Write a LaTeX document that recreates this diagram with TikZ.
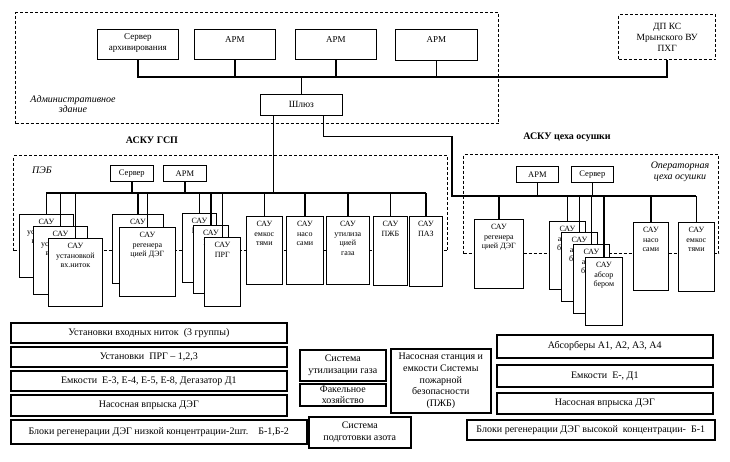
\documentclass[tikz,border=0pt]{standalone}
\usepackage{fontspec}
\setmainfont{Liberation Serif}
\usetikzlibrary{positioning}

\begin{document}
\begin{tikzpicture}[
    x=1pt, y=-1pt,
    zone/.style={draw, line width=1.3pt, dash pattern=on 3pt off 2pt, anchor=north west, inner sep=0pt, align=center, font=\fontsize{9.5}{11}\selectfont},
    unit/.style={draw, fill=white, line width=0.7pt, anchor=north west, inner sep=0pt, align=center, font=\fontsize{9.5}{11}\selectfont},
    plant/.style={draw, fill=white, line width=1.6pt, anchor=north west, inner sep=0pt, align=center, font=\fontsize{10}{11.7}\selectfont},
    sautext/.style={anchor=north, align=center, inner sep=0pt, yshift=-5.5pt, font=\fontsize{8}{9.5}\selectfont},
    armtext/.style={anchor=north, align=center, inner sep=0pt, yshift=-7pt, font=\fontsize{9}{11}\selectfont},
    bus/.style={line width=1.6pt},
    heading/.style={font=\bfseries\fontsize{10}{12}\selectfont},
    room/.style={align=center, font=\itshape\fontsize{10}{10.5}\selectfont}
]
\useasboundingbox (0,0) rectangle (730,462);

% Administrative building
\node[zone, minimum width=483pt, minimum height=111pt] (admin) at (15,12) {};
\node[room] (adminlbl) at (73,104) {Административное\\здание};
\node[unit, minimum width=81pt, minimum height=30pt, label={[armtext, yshift=2.5pt]north:Сервер\\архивирования}] (srv) at (97,29) {};
\node[unit, minimum width=81pt, minimum height=30pt, label={[armtext]north:АРМ}] (arm1) at (194,29) {};
\node[unit, minimum width=81pt, minimum height=30pt, label={[armtext]north:АРМ}] (arm2) at (295,29) {};
\node[unit, minimum width=82pt, minimum height=31pt, label={[armtext]north:АРМ}] (arm3) at (395,29) {};
\node[unit, minimum width=82pt, minimum height=21pt] (gw) at (260,94) {Шлюз};

% Dispatcher
\node[zone, minimum width=97pt, minimum height=45pt] (dp) at (618,14) {ДП КС\\Мрынского ВУ\\ПХГ};

% Admin network
\coordinate (adminbus) at (0,77);
\draw[bus] (srv.south) -- (srv.south |- adminbus) -- (dp.south |- adminbus) -- (dp.south);
\draw[bus] (arm1.south) -- (arm1.south |- adminbus);
\draw[bus] (arm2.south) -- (arm2.south |- adminbus);
\draw[bus] (arm3.south) -- (arm3.south |- adminbus);
\draw[bus] (gw.north) -- (gw.north |- adminbus);

% Titles
\node[heading] (gsp) at (152,140) {АСКУ ГСП};
\node[heading] (dry) at (567,137) {АСКУ цеха осушки};

% PEB
\node[zone, minimum width=434pt, minimum height=95pt] (peb) at (13,155) {};
\node[room] (peblbl) at (42,170) {ПЭБ};
\node[unit, minimum width=43pt, minimum height=16pt, font=\fontsize{8.5}{9}\selectfont] (pebsrv) at (110,165) {Сервер};
\node[unit, minimum width=43pt, minimum height=16pt, font=\fontsize{8.5}{9}\selectfont] (pebarm) at (163,165) {АРМ};

% PEB controllers
\node[unit, minimum width=54pt, minimum height=63pt, label={[sautext]north:САУ\\установкой\\вх.ниток}] (g1a) at (19,214) {};
\node[unit, minimum width=54pt, minimum height=68pt, label={[sautext]north:САУ\\установкой\\вх.ниток}] (g1b) at (33,226) {};
\node[unit, minimum width=54pt, minimum height=68pt, label={[sautext]north:САУ\\установкой\\вх.ниток}] (g1c) at (48,238) {};
\node[unit, minimum width=51pt, minimum height=69pt, label={[sautext]north:САУ\\регенера\\цией ДЭГ}] (g2a) at (112,214) {};
\node[unit, minimum width=56pt, minimum height=69pt, label={[sautext]north:САУ\\регенера\\цией ДЭГ}] (g2b) at (119,227) {};
\node[unit, minimum width=34pt, minimum height=69pt, label={[sautext]north:САУ\\ПРГ}] (g3a) at (182,213) {};
\node[unit, minimum width=35pt, minimum height=68pt, label={[sautext]north:САУ\\ПРГ}] (g3b) at (193,225) {};
\node[unit, minimum width=36pt, minimum height=69pt, label={[sautext]north:САУ\\ПРГ}] (g3c) at (204,237) {};
\node[unit, minimum width=36pt, minimum height=68pt, label={[sautext]north:САУ\\емкос\\тями}] (s4) at (246,216) {};
\node[unit, minimum width=37pt, minimum height=68pt, label={[sautext]north:САУ\\насо\\сами}] (s5) at (286,216) {};
\node[unit, minimum width=43pt, minimum height=68pt, label={[sautext]north:САУ\\утилиза\\цией\\газа}] (s6) at (326,216) {};
\node[unit, minimum width=34pt, minimum height=69pt, label={[sautext]north:САУ\\ПЖБ}] (s7) at (373,216) {};
\node[unit, minimum width=33pt, minimum height=70pt, label={[sautext]north:САУ\\ПАЗ}] (s8) at (409,216) {};

% PEB network
\coordinate (pebbus) at (0,193);
\draw[bus] (g1a.north |- pebbus) -- (s8.north |- pebbus);
\draw[bus] ([xshift=-28pt]gw.south) -- ([xshift=-28pt]gw.south |- pebbus);
\draw[bus] (pebsrv.south) -- (pebsrv.south |- pebbus);
\draw[bus] (pebarm.south) -- (pebarm.south |- pebbus);
\draw[bus] (g1a.north) -- (g1a.north |- pebbus);
\draw[bus] (g1b.north) -- (g1b.north |- pebbus);
\draw[bus] (g1c.north) -- (g1c.north |- pebbus);
\draw[bus] (g2a.north) -- (g2a.north |- pebbus);
\draw[bus] (g2b.north) -- (g2b.north |- pebbus);
\draw[bus] (g3a.north) -- (g3a.north |- pebbus);
\draw[bus] (g3b.north) -- (g3b.north |- pebbus);
\draw[bus] (g3c.north) -- (g3c.north |- pebbus);
\draw[bus] (s4.north) -- (s4.north |- pebbus);
\draw[bus] (s5.north) -- (s5.north |- pebbus);
\draw[bus] (s6.north) -- (s6.north |- pebbus);
\draw[bus] (s7.north) -- (s7.north |- pebbus);
\draw[bus] (s8.north) -- (s8.north |- pebbus);

% Drying operator room
\node[zone, minimum width=255pt, minimum height=99pt] (drying) at (463,154) {};
\node[room] (drylbl) at (680,172) {Операторная\\цеха осушки};
\node[unit, minimum width=42pt, minimum height=16pt, font=\fontsize{8.5}{9}\selectfont] (dryarm) at (516,166) {АРМ};
\node[unit, minimum width=42pt, minimum height=16pt, font=\fontsize{8.5}{9}\selectfont] (drysrv) at (571,166) {Сервер};

% Drying controllers
\node[unit, minimum width=49pt, minimum height=69pt, label={[sautext]north:САУ\\регенера\\цией ДЭГ}] (d1) at (474,219) {};
\node[unit, minimum width=36pt, minimum height=68pt, label={[sautext]north:САУ\\абсор\\бером}] (a1) at (549,221) {};
\node[unit, minimum width=36pt, minimum height=69pt, label={[sautext]north:САУ\\абсор\\бером}] (a2) at (561,232) {};
\node[unit, minimum width=36pt, minimum height=69pt, label={[sautext]north:САУ\\абсор\\бером}] (a3) at (573,244) {};
\node[unit, minimum width=37pt, minimum height=68pt, label={[sautext]north:САУ\\абсор\\бером}] (a4) at (585,257) {};
\node[unit, minimum width=35pt, minimum height=68pt, label={[sautext]north:САУ\\насо\\сами}] (d4) at (633,222) {};
\node[unit, minimum width=36pt, minimum height=69pt, label={[sautext]north:САУ\\емкос\\тями}] (d5) at (678,222) {};

% Drying network
\coordinate (drybus) at (452,196);
\draw[bus] ([xshift=22pt]gw.south) -- ++(0,21) -| (drybus) -- (d5.north |- drybus);
\draw[bus] (dryarm.south) -- (dryarm.south |- drybus);
\draw[bus] (drysrv.south) -- (drysrv.south |- drybus);
\draw[bus] (d1.north) -- (d1.north |- drybus);
\draw[bus] (a1.north) -- (a1.north |- drybus);
\draw[bus] (a2.north) -- (a2.north |- drybus);
\draw[bus] (a3.north) -- (a3.north |- drybus);
\draw[bus] (a4.north) -- (a4.north |- drybus);
\draw[bus] (d4.north) -- (d4.north |- drybus);
\draw[bus] (d5.north) -- (d5.north |- drybus);

% Plant equipment, GSP
\node[plant, minimum width=276pt, minimum height=20pt] (b1) at (10,322) {Установки входных ниток~ (3 группы)};
\node[plant, minimum width=276pt, minimum height=20pt] (b2) at (10,346) {Установки~ ПРГ – 1,2,3};
\node[plant, minimum width=276pt, minimum height=20pt] (b3) at (10,370) {Емкости~ Е-3, Е-4, Е-5, Е-8, Дегазатор Д1};
\node[plant, minimum width=276pt, minimum height=21pt] (b4) at (10,394) {Насосная впрыска ДЭГ};
\node[plant, minimum width=296pt, minimum height=24pt] (b5) at (10,419) {Блоки регенерации ДЭГ низкой концентрации-2шт.\quad Б-1,Б-2};

% Plant equipment, common
\node[plant, minimum width=86pt, minimum height=31pt] (u1) at (299,349) {Система\\утилизации газа};
\node[plant, minimum width=86pt, minimum height=22pt] (u2) at (299,383) {Факельное\\хозяйство};
\node[plant, minimum width=100pt, minimum height=64pt] (u3) at (390,348) {Насосная станция и\\емкости Системы\\пожарной\\безопасности\\(ПЖБ)};
\node[plant, minimum width=102pt, minimum height=31pt] (u4) at (308,416) {Система\\подготовки азота};

% Plant equipment, drying
\node[plant, minimum width=216pt, minimum height=23pt] (r1) at (496,334) {Абсорберы А1, А2, А3, А4};
\node[plant, minimum width=216pt, minimum height=22pt] (r2) at (496,364) {Емкости~ Е-, Д1};
\node[plant, minimum width=216pt, minimum height=21pt] (r3) at (496,392) {Насосная впрыска ДЭГ};
\node[plant, minimum width=248pt, minimum height=20pt] (r4) at (466,419) {Блоки регенерации ДЭГ высокой~ концентрации-~ Б-1};

\end{tikzpicture}
\end{document}
